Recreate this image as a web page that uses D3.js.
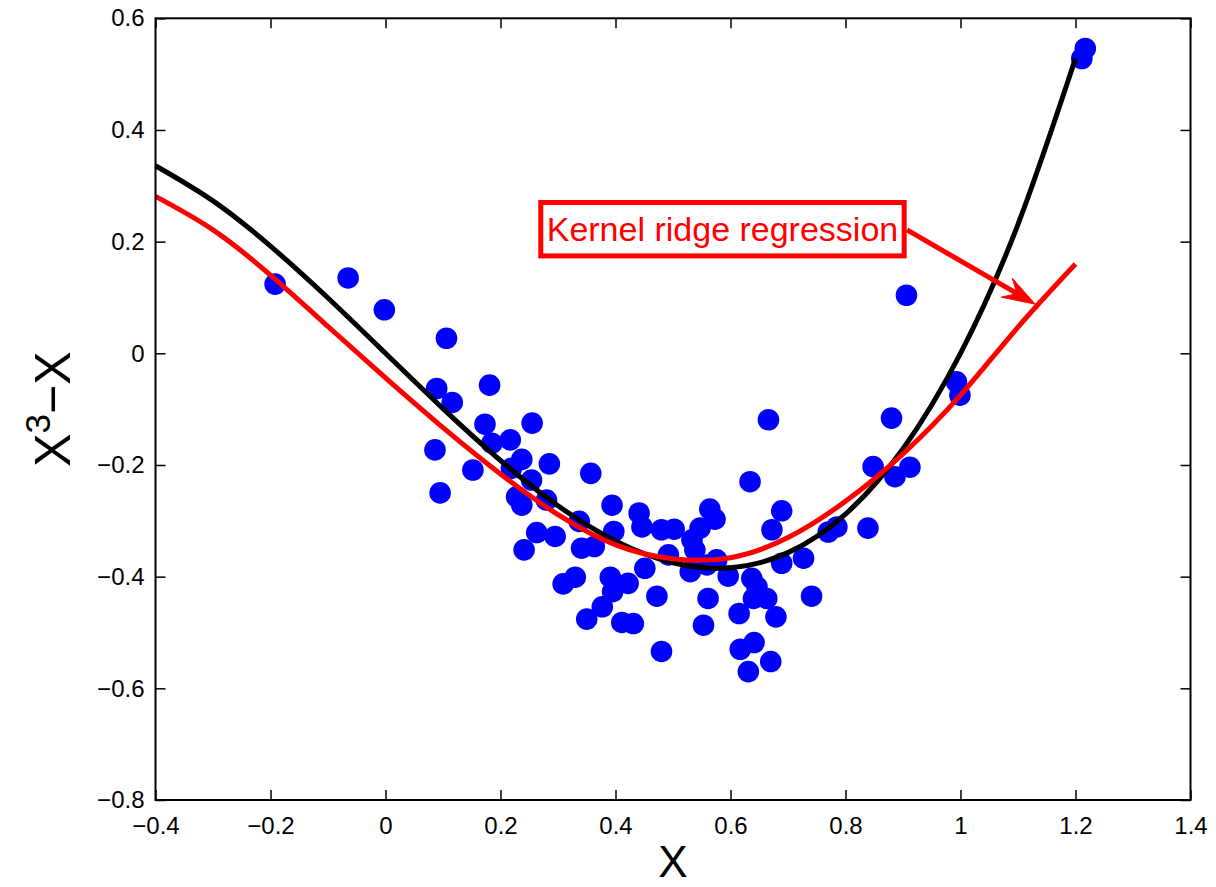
<!DOCTYPE html>
<html>
<head>
<meta charset="utf-8">
<script src="https://cdn.jsdelivr.net/npm/d3@7/dist/d3.min.js"></script>
<style>
  html, body { margin: 0; padding: 0; background: #fff; }
  svg { display: block; font-family: "Liberation Sans", Arial, Helvetica, sans-serif; }
</style>
</head>
<body>
<svg id="chart" width="1216" height="887"></svg>
<script>
// ---- data ----
const xTicks = [-0.4, -0.2, 0, 0.2, 0.4, 0.6, 0.8, 1, 1.2, 1.4];
const xTickLabels = ["\u22120.4", "\u22120.2", "0", "0.2", "0.4", "0.6", "0.8", "1", "1.2", "1.4"];
const yTicks = [-0.8, -0.6, -0.4, -0.2, 0, 0.2, 0.4, 0.6];
const yTickLabels = ["\u22120.8", "\u22120.6", "\u22120.4", "\u22120.2", "0", "0.2", "0.4", "0.6"];

const pointsX = [-0.192, -0.065, -0.002, 0.106, 0.089, 0.116, 0.086, 0.181, 0.173, 0.255,
  0.185, 0.217, 0.152, 0.095, 0.237, 0.219, 0.254, 0.285, 0.357, 0.228,
  0.237, 0.280, 0.394, 0.263, 0.337, 0.397, 0.295, 0.341, 0.363, 0.241,
  0.330, 0.309, 0.391, 0.395, 0.377, 0.350, 0.411, 0.441, 0.446, 0.480,
  0.502, 0.564, 0.573, 0.547, 0.533, 0.538, 0.492, 0.451, 0.422, 0.472,
  0.530, 0.559, 0.576, 0.596, 0.634, 0.689, 0.672, 0.689, 0.727, 0.637,
  0.646, 0.640, 0.663, 0.561, 0.615, 0.679, 0.741, 0.553, 0.431, 0.480,
  0.617, 0.641, 0.670, 0.631, 0.770, 0.785, 0.839, 0.666, 0.906, 0.993,
  0.999, 0.880, 0.848, 0.886, 0.912, 1.217, 1.211];
const pointsY = [0.124, 0.135, 0.078, 0.027, -0.063, -0.088, -0.173, -0.057, -0.127, -0.125,
  -0.161, -0.155, -0.209, -0.250, -0.190, -0.206, -0.227, -0.198, -0.215, -0.257,
  -0.272, -0.263, -0.272, -0.321, -0.301, -0.319, -0.328, -0.349, -0.346, -0.352,
  -0.401, -0.413, -0.401, -0.427, -0.454, -0.476, -0.482, -0.286, -0.311, -0.316,
  -0.315, -0.279, -0.297, -0.313, -0.334, -0.352, -0.361, -0.385, -0.412, -0.435,
  -0.391, -0.379, -0.370, -0.399, -0.230, -0.282, -0.316, -0.376, -0.367, -0.403,
  -0.418, -0.439, -0.439, -0.439, -0.466, -0.472, -0.435, -0.487, -0.484, -0.534,
  -0.530, -0.518, -0.552, -0.570, -0.320, -0.311, -0.313, -0.119, 0.104, -0.051,
  -0.075, -0.116, -0.203, -0.221, -0.204, 0.546, 0.528];

const curveX = [-0.4, -0.3, -0.2, -0.1, 0, 0.1, 0.2, 0.3, 0.4, 0.5, 0.6, 0.7, 0.8, 0.9, 1.0, 1.1, 1.2];
const trueY  = [0.336, 0.273, 0.192, 0.099, 0, -0.099, -0.192, -0.273, -0.336, -0.375, -0.384, -0.357, -0.288, -0.171, 0, 0.231, 0.528];
const krrY   = [0.281, 0.221, 0.140, 0.048, -0.044, -0.133, -0.216, -0.289, -0.343, -0.368, -0.366, -0.330, -0.265, -0.180, -0.075, 0.047, 0.160];

const annotationText = "Kernel ridge regression";
const arrowStart = [0.907, 0.221];
const arrowEnd = [1.130, 0.088];
const boxCorners = [[0.2657, 0.2746], [0.9064, 0.170]];

// ---- layout ----
const svg = d3.select("#chart");
svg.append("rect").attr("width", 1216).attr("height", 887).attr("fill", "#fff");

const x = d3.scaleLinear().domain([-0.4, 1.4]).range([155.5, 1190.5]);
const y = d3.scaleLinear().domain([-0.8, 0.6]).range([800, 18.3]);

// ---- axes ----
const fontSize = 24;
const gx = svg.append("g").attr("transform", `translate(0,${y(-0.8)})`)
  .call(d3.axisBottom(x).tickValues(xTicks).tickFormat((d, i) => xTickLabels[i]).tickSize(-10).tickPadding(17));
const gy = svg.append("g").attr("transform", `translate(${x(-0.4)},0)`)
  .call(d3.axisLeft(y).tickValues(yTicks).tickFormat((d, i) => yTickLabels[i]).tickSize(-10).tickPadding(11));
const gxt = svg.append("g").attr("transform", `translate(0,${y(0.6)})`)
  .call(d3.axisTop(x).tickValues(xTicks).tickFormat("").tickSize(-10));
const gyr = svg.append("g").attr("transform", `translate(${x(1.4)},0)`)
  .call(d3.axisRight(y).tickValues(yTicks).tickFormat("").tickSize(-10));
[gx, gy, gxt, gyr].forEach(g => {
  g.select(".domain").remove();
  g.selectAll(".tick line").attr("stroke", "#000").attr("stroke-width", 1.5);
  g.selectAll(".tick text").attr("fill", "#000").attr("font-size", fontSize)
    .attr("font-family", "Liberation Sans, Arial, sans-serif");
});

// ---- scatter ----
const pts = pointsX.map((v, i) => [v, pointsY[i]]);
svg.append("g").selectAll("circle").data(pts).join("circle")
  .attr("cx", d => x(d[0])).attr("cy", d => y(d[1])).attr("r", 10.8)
  .attr("fill", "#0000ff");

// ---- curves ----
const line = d3.line().x(d => x(d[0])).y(d => y(d[1])).curve(d3.curveNatural);
svg.append("path").datum(curveX.map((v, i) => [v, trueY[i]]))
  .attr("d", line).attr("fill", "none").attr("stroke", "#000").attr("stroke-width", 5);
svg.append("path").datum(curveX.map((v, i) => [v, krrY[i]]))
  .attr("d", line).attr("fill", "none").attr("stroke", "#ff0000").attr("stroke-width", 5);

// ---- frame ----
svg.append("rect")
  .attr("x", x(-0.4)).attr("y", y(0.6))
  .attr("width", x(1.4) - x(-0.4)).attr("height", y(-0.8) - y(0.6))
  .attr("fill", "none").attr("stroke", "#000").attr("stroke-width", 2);

// ---- annotation ----
const sx = x(arrowStart[0]), sy = y(arrowStart[1]);
const ex = x(arrowEnd[0]), ey = y(arrowEnd[1]);
const len = Math.hypot(ex - sx, ey - sy);
const ux = (ex - sx) / len, uy = (ey - sy) / len;
const nx = -uy, ny = ux;
const headLen = 33, headW = 11, notch = 21;
svg.append("line").attr("x1", sx).attr("y1", sy)
  .attr("x2", ex - ux * notch).attr("y2", ey - uy * notch)
  .attr("stroke", "#ff0000").attr("stroke-width", 5);
const head = [
  [ex, ey],
  [ex - ux * headLen + nx * headW, ey - uy * headLen + ny * headW],
  [ex - ux * notch, ey - uy * notch],
  [ex - ux * headLen - nx * headW, ey - uy * headLen - ny * headW]
];
svg.append("path").attr("d", "M" + head.map(p => p.join(",")).join("L") + "Z")
  .attr("fill", "#ff0000").attr("stroke", "#ff0000").attr("stroke-width", 1);

const bx0 = x(boxCorners[0][0]), by0 = y(boxCorners[0][1]);
const bx1 = x(boxCorners[1][0]), by1 = y(boxCorners[1][1]);
svg.append("rect").attr("x", bx0 + 2.5).attr("y", by0 + 2.5)
  .attr("width", bx1 - bx0 - 5).attr("height", by1 - by0 - 5)
  .attr("fill", "#fff").attr("stroke", "#ff0000").attr("stroke-width", 5);
svg.append("text").attr("x", (bx0 + bx1) / 2).attr("y", (by0 + by1) / 2 + 12)
  .attr("text-anchor", "middle").attr("font-size", 34).attr("fill", "#ff0000")
  .text(annotationText);

// ---- axis labels ----
svg.append("text").attr("x", (x(-0.4) + x(1.4)) / 2).attr("y", 877)
  .attr("text-anchor", "middle").attr("font-size", 44).attr("fill", "#000").text("X");
const yl = svg.append("text")
  .attr("transform", `translate(70,${(y(-0.8) + y(0.6)) / 2}) rotate(-90)`)
  .attr("text-anchor", "middle").attr("font-size", 50).attr("fill", "#000");
yl.append("tspan").text("X");
yl.append("tspan").attr("font-size", 35).attr("dy", -20).text("3");
yl.append("tspan").attr("dy", 20).text("\u2212X");
</script>
</body>
</html>
